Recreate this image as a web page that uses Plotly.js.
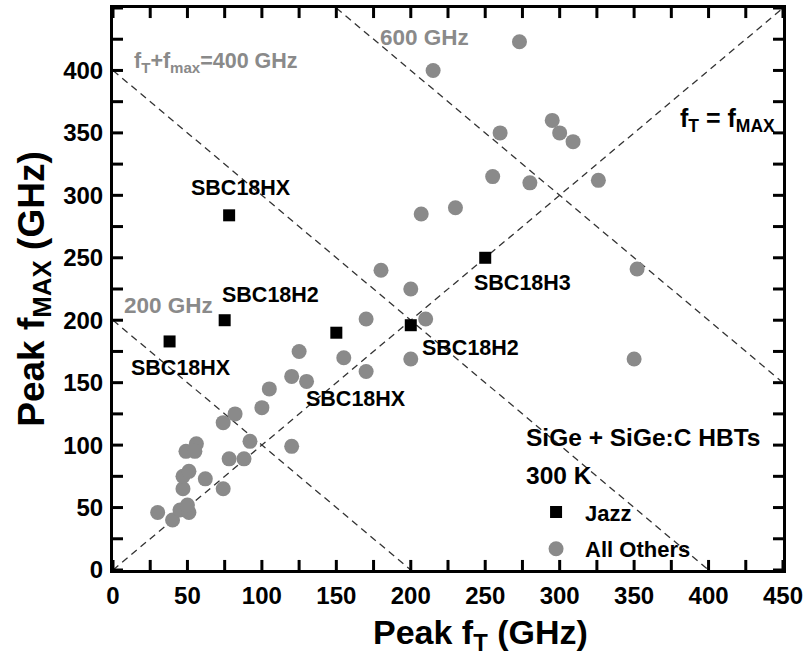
<!DOCTYPE html>
<html>
<head>
<meta charset="utf-8">
<script src="https://cdn.plot.ly/plotly-3.0.1.min.js"></script>
<style>html,body{margin:0;padding:0;background:#fff;}#chart{width:805px;height:667px;}</style>
</head>
<body>
<div id="chart"></div>
<script>
// Jazz devices (black squares)
const jazzFt   = [38, 75, 78, 150, 200, 250];
const jazzFmax = [183, 200, 284, 190, 196, 250];

// All other published SiGe / SiGe:C HBTs (gray circles)
const otherFt   = [30, 40, 45, 51, 50, 47, 47, 51, 49, 56, 55, 62, 74, 78, 88, 92, 74, 82, 100, 105, 120, 120, 130, 125, 155, 170, 170, 180, 200, 210, 200, 207, 230, 215, 273, 255, 260, 280, 295, 300, 309, 326, 352, 350];
const otherFmax = [46, 40, 48, 46, 52, 65, 75, 79, 95, 101, 95, 73, 65, 89, 89, 103, 118, 125, 130, 145, 99, 155, 151, 175, 170, 159, 201, 240, 169, 201, 225, 285, 290, 400, 423, 315, 350, 310, 360, 350, 343, 312, 241, 169];

// Tick positions (every 25 GHz) and labels (every 50 GHz)
const tickVals = [0, 25, 50, 75, 100, 125, 150, 175, 200, 225, 250, 275, 300, 325, 350, 375, 400, 425, 450];
const tickText = ['0', '', '50', '', '100', '', '150', '', '200', '', '250', '', '300', '', '350', '', '400', '', '450'];

// Reference lines
const lineUnityX = [0, 450],   lineUnityY = [0, 450];
const line200X   = [0, 200],   line200Y   = [200, 0];
const line400X   = [0, 400],   line400Y   = [400, 0];
const line600X   = [150, 450], line600Y   = [450, 150];

// Device labels
const labelText = ['SBC18HX', 'SBC18H2', 'SBC18HX', 'SBC18HX', 'SBC18H2', 'SBC18H3'];
const labelX    = [86, 106, 46, 163, 240, 275];
const labelY    = [306, 220, 162, 137, 178, 230];

const font = 'Arial, "Liberation Sans", sans-serif';
const dashLine = {color: '#333', width: 1.3, dash: '7px,5px'};
const RANGE = [0, 450];

function refLine(x, y) {
  return {x: x, y: y, mode: 'lines', line: dashLine, showlegend: false, hoverinfo: 'skip'};
}

// Inside tick marks on all four frame sides, drawn as short solid segments on the axes' scales
const tickLenPx = 10;
const plotWpx = 670, plotHpx = 559;
const hLen = tickLenPx * (RANGE[1] - RANGE[0]) / plotHpx;  // tick length in y units
const wLen = tickLenPx * (RANGE[1] - RANGE[0]) / plotWpx;  // tick length in x units
function segTrace(xs, ys) {
  return {x: xs, y: ys, mode: 'lines', showlegend: false, hoverinfo: 'skip', cliponaxis: false,
          line: {color: '#000', width: 3}};
}
function vTicks(base, dir) {
  const xs = [], ys = [];
  tickVals.forEach(v => { xs.push(v, v, null); ys.push(base, base + dir * hLen, null); });
  return segTrace(xs, ys);
}
function hTicks(base, dir) {
  const xs = [], ys = [];
  tickVals.forEach(v => { xs.push(base, base + dir * wLen, null); ys.push(v, v, null); });
  return segTrace(xs, ys);
}
const tickTraces = [vTicks(RANGE[0], 1), vTicks(RANGE[1], -1), hTicks(RANGE[0], 1), hTicks(RANGE[1], -1)];

const data = [
  refLine(lineUnityX, lineUnityY),
  refLine(line200X, line200Y),
  refLine(line400X, line400Y),
  refLine(line600X, line600Y),
  ...tickTraces,
  {x: otherFt, y: otherFmax, mode: 'markers', name: 'All Others', legendgroup: 'b', legendrank: 2,
   marker: {symbol: 'circle', size: 15, color: '#8a8a8a'}},
  {x: jazzFt, y: jazzFmax, mode: 'markers', name: 'Jazz', legendgroup: 'a', legendrank: 1,
   marker: {symbol: 'square', size: 12, color: '#000'}}
];

const annotations = labelText.map((t, i) => ({
  x: labelX[i], y: labelY[i], text: t, showarrow: false,
  font: {family: font, size: 21.5, color: '#000', weight: 'bold'}
}));
annotations.push(
  {x: 13, y: 406, xanchor: 'left', text: 'f<sub>T</sub>+f<sub>max</sub>=400 GHz', showarrow: false,
   font: {family: font, size: 21.5, color: '#8a8a8a', weight: 'bold'}},
  {x: 209, y: 426, text: '600 GHz', showarrow: false,
   font: {family: font, size: 22.5, color: '#8a8a8a', weight: 'bold'}},
  {x: 37, y: 212, text: '200 GHz', showarrow: false,
   font: {family: font, size: 22.5, color: '#8a8a8a', weight: 'bold'}},
  {x: 446, y: 360, xanchor: 'right', text: 'f<sub>T</sub> = f<sub>MAX</sub>', showarrow: false,
   font: {family: font, size: 25, color: '#000', weight: 'bold'}},
  {x: 276, y: 106, xanchor: 'left', text: 'SiGe + SiGe:C HBTs', showarrow: false,
   font: {family: font, size: 24.5, color: '#000', weight: 'bold'}},
  {x: 276, y: 76, xanchor: 'left', text: '300 K', showarrow: false,
   font: {family: font, size: 24.5, color: '#000', weight: 'bold'}},
  {xref: 'paper', yref: 'paper', x: 0.549, y: 0, yshift: -64, yanchor: 'middle',
   text: 'Peak f<sub>T</sub> (GHz)', showarrow: false,
   font: {family: font, size: 34, color: '#000', weight: 'bold'}}
);

function makeAxis() {
  return {
    range: RANGE, tickmode: 'array', tickvals: tickVals, ticktext: tickText,
    showgrid: false, zeroline: false,
    showline: true, linecolor: '#000', linewidth: 3, mirror: true,
    ticks: '', ticklabelstandoff: 2,
    tickfont: {family: font, size: 24, color: '#000', weight: 'bold'}
  };
}

const yAxis = makeAxis();
yAxis.title = {text: 'Peak f<sub>MAX</sub> (GHz)', font: {family: font, size: 37, color: '#000', weight: 'bold'}, standoff: 8};

const layout = {
  width: 805, height: 667,
  margin: {l: 113, r: 22, t: 8, b: 97},
  paper_bgcolor: '#fff', plot_bgcolor: '#fff',
  font: {family: font},
  xaxis: makeAxis(),
  yaxis: yAxis,
  showlegend: true,
  legend: {
    x: 0.618, y: 0.14, xanchor: 'left', yanchor: 'top',
    bgcolor: 'rgba(0,0,0,0)', borderwidth: 0,
    traceorder: 'grouped', tracegroupgap: 5, itemwidth: 48,
    font: {family: font, size: 22, color: '#000', weight: 'bold'}
  },
  annotations: annotations
};

Plotly.newPlot('chart', data, layout, {displayModeBar: false, staticPlot: true});
</script>
</body>
</html>
